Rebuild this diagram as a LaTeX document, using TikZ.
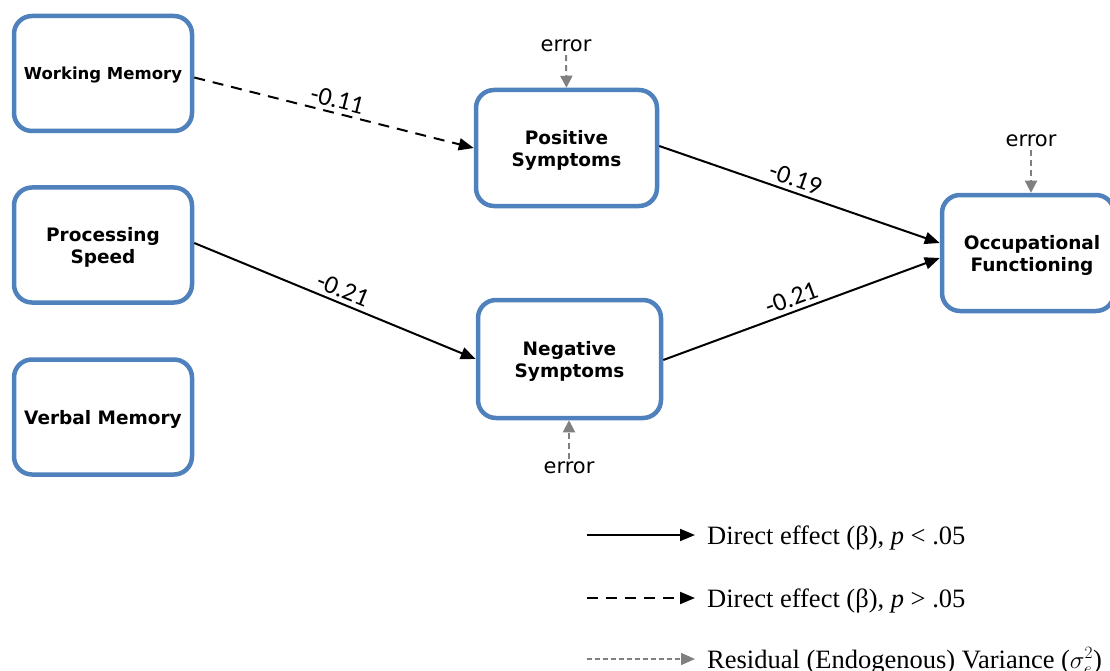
\documentclass[tikz,border=0pt]{standalone}
\usepackage{fontspec}
\setmainfont{Liberation Serif}
\newfontfamily\boxfont{DejaVu Sans}
\newfontfamily\lblfont{Carlito}
\usetikzlibrary{arrows.meta}
\definecolor{boxblue}{HTML}{4F81BD}
\definecolor{errgray}{HTML}{808080}
\tikzset{
  vbox/.style={draw=boxblue, line width=4.5pt, rounded corners=18pt, fill=white,
    align=center, font=\boxfont\bfseries\fontsize{18.5pt}{22pt}\selectfont, inner sep=0pt,
    text depth=-1.5pt},
  eff/.style={line width=2pt, -{Triangle[length=15pt,width=12pt]}},
  effdash/.style={eff, dash pattern=on 11pt off 8pt},
  errarrow/.style={errgray, line width=2pt, dash pattern=on 6pt off 4pt, -{Triangle[length=12pt,width=12pt]}},
  errtext/.style={font=\boxfont\fontsize{21pt}{23pt}\selectfont, inner sep=1pt},
  coef/.style={font=\lblfont\fontsize{26pt}{28pt}\selectfont, sloped, above=4pt, inner sep=0pt},
  legtext/.style={anchor=base west, font=\fontsize{26.5pt}{28pt}\selectfont, inner sep=0pt}
}
\begin{document}
\begin{tikzpicture}[x=1pt,y=-1pt]
\clip (0,0) rectangle (1110,671);
\fill[white] (0,0) rectangle (1110,671);
% boxes
\node[vbox, minimum width=178pt, minimum height=115pt, font=\boxfont\bfseries\fontsize{16.5pt}{18pt}\selectfont] (wm) at (103,73.5) {Working Memory};
\node[vbox, minimum width=178pt, minimum height=115pt] (ps) at (103,245) {Processing\\Speed};
\node[vbox, minimum width=178pt, minimum height=115pt] (vm) at (103,417) {Verbal Memory};
\node[vbox, minimum width=181pt, minimum height=116pt] (pos) at (566.5,148) {Positive\\Symptoms};
\node[vbox, minimum width=183pt, minimum height=118pt] (neg) at (569.5,359) {Negative\\Symptoms};
\node[vbox, minimum width=172pt, minimum height=116pt, text depth=-3pt] (occ) at (1028,253) {\hspace*{8pt}Occupational\\\hspace*{8pt}Functioning};
% error terms
\node[errtext] (e1) at (566,46) {error};
\node[errtext] (e2) at (569,468) {error};
\node[errtext] (e3) at (1031,141) {error};
\draw[errarrow] ([yshift=-2pt]e1.south) -- (pos.north);
\draw[errarrow] ([yshift=2pt]e2.north) -- (e2.north |- neg.south);
\draw[errarrow] ([yshift=-2pt]e3.south) -- (e3.south |- occ.north);
% effects
\draw[effdash] ([yshift=-4pt]wm.east) -- (pos.west)
  node[coef, pos=0.50] {-0.11};
\draw[eff] ([yshift=2pt]ps.east) -- (neg.west)
  node[coef, pos=0.51] {-0.21};
\draw[eff] ([yshift=2pt]pos.east) -- ([yshift=10pt]occ.west)
  node[coef, pos=0.47] {-0.19};
\draw[eff] ([yshift=-1pt]neg.east) -- ([yshift=-5pt]occ.west)
  node[coef, pos=0.48] {-0.21};
% legend
\coordinate (l1a) at (587,535); \coordinate (l1b) at (695,535);
\coordinate (l2a) at (587,598); \coordinate (l2b) at (695,598);
\coordinate (l3a) at (587,659); \coordinate (l3b) at (695,659);
\draw[eff] (l1a) -- (l1b);
\draw[effdash] (l2a) -- (l2b);
\draw[errgray, line width=1.5pt, dash pattern=on 5pt off 3pt, -{Triangle[length=14pt,width=12pt]}] (l3a) -- (l3b);
\node[legtext] (t1) at (707,544) {Direct effect (β), \textit{p} < .05};
\node[legtext] (t2) at (707,607) {Direct effect (β), \textit{p} > .05};
\node[legtext] (t3) at (707,668) {Residual (Endogenous) Variance ($\sigma_e^2$)};
\end{tikzpicture}
\end{document}
